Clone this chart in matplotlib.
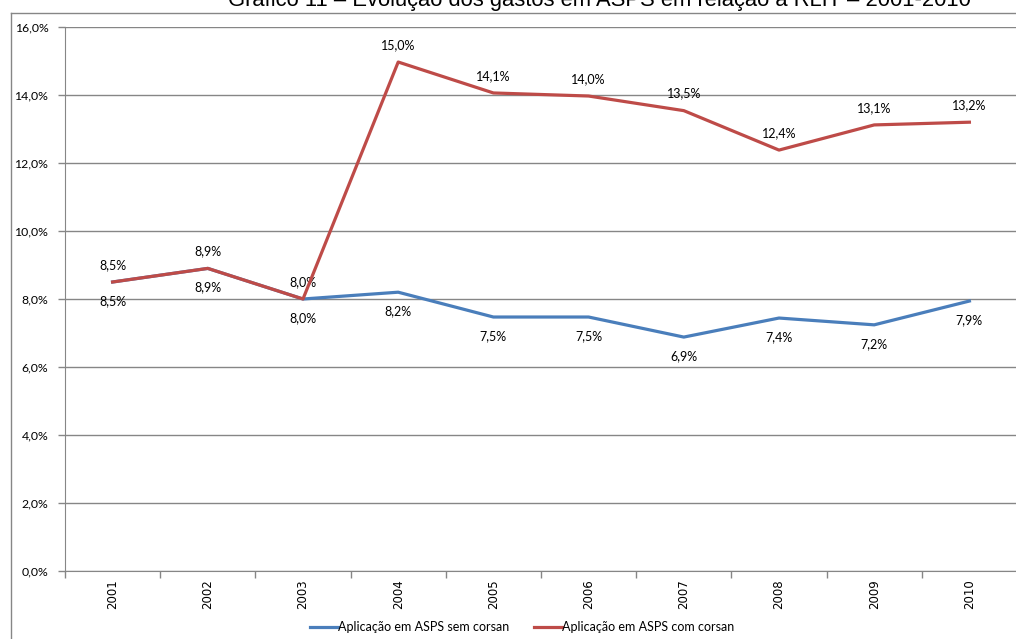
import matplotlib
matplotlib.use("Agg")
import matplotlib.pyplot as plt
from matplotlib.lines import Line2D

years = ["2001", "2002", "2003", "2004", "2005", "2006", "2007", "2008", "2009", "2010"]
sem_corsan = [8.5, 8.9, 8.0, 8.2, 7.47, 7.47, 6.88, 7.44, 7.24, 7.94]
com_corsan = [8.5, 8.9, 8.0, 14.97, 14.06, 13.97, 13.54, 12.38, 13.12, 13.2]

title = "Gráfico 11 – Evolução dos gastos em ASPS em relação à RLIT – 2001-2010"
label_sem = "Aplicação em ASPS sem corsan"
label_com = "Aplicação em ASPS com corsan"

BLUE = "#4A7EBB"
RED = "#BE4B48"
GRID = "#868686"

W, H = 1016, 639
fig = plt.figure(figsize=(W / 100, H / 100), dpi=100)

# outer chart frame (only the top and left edges fall inside the image)
fig.add_artist(Line2D([10.5 / W, 10.5 / W], [0, 1 - 12.5 / H], transform=fig.transFigure,
                      color=GRID, lw=1))
fig.add_artist(Line2D([10.5 / W, 1], [1 - 12.5 / H, 1 - 12.5 / H], transform=fig.transFigure,
                      color=GRID, lw=1))

fig.text(599 / W, 1 - 6 / H, title, ha="center", va="baseline",
         fontsize=15.8, family="Liberation Sans")

left, right, top, bottom = 65, 1017, 27, 571
ax = fig.add_axes([left / W, 1 - bottom / H, (right - left) / W, (bottom - top) / H])

x = [i + 0.5 for i in range(len(years))]
ax.plot(x, sem_corsan, color=BLUE, lw=2.3, solid_joinstyle="round", zorder=3, label=label_sem)
ax.plot(x, com_corsan, color=RED, lw=2.3, solid_joinstyle="round", zorder=4, label=label_com)

for xi, v in zip(x, sem_corsan):
    ax.annotate(f"{v:.1f}%".replace(".", ","), (xi, v), xytext=(0, -19),
                textcoords="offset pixels", ha="center", va="center",
                fontsize=9, family="Lato")
for xi, v in zip(x, com_corsan):
    ax.annotate(f"{v:.1f}%".replace(".", ","), (xi, v), xytext=(0, 17),
                textcoords="offset pixels", ha="center", va="center",
                fontsize=9, family="Lato")

ax.set_xlim(0, 10)
ax.set_ylim(0, 16)
ax.set_yticks(range(0, 17, 2))
ax.set_yticklabels([f"{v:.1f}%".replace(".", ",") for v in range(0, 17, 2)],
                   fontsize=8.8, family="Lato")
ax.yaxis.grid(True, color=GRID, lw=1)
ax.set_axisbelow(True)

ax.set_xticks(range(0, 11))
ax.set_xticklabels([])
ax.set_xticks(x, minor=True)
ax.set_xticklabels(years, minor=True, rotation=90, fontsize=8.5, family="DejaVu Sans")
ax.tick_params(axis="x", which="major", direction="out", length=5, color=GRID, width=1)
ax.tick_params(axis="x", which="minor", length=0, pad=6)
ax.tick_params(axis="y", direction="out", length=5, color=GRID, width=1, pad=7)

for side in ("top", "right"):
    ax.spines[side].set_visible(False)
ax.spines["left"].set_color(GRID)
ax.spines["bottom"].set_color(GRID)

fig.legend(loc="center", bbox_to_anchor=(522 / W, 1 - 627 / H), ncol=2, frameon=False,
           prop={"family": "Lato", "size": 9}, handlelength=2.2, handletextpad=0.0,
           columnspacing=2.0)

fig.savefig("out.png", dpi=100)
plt.close()
